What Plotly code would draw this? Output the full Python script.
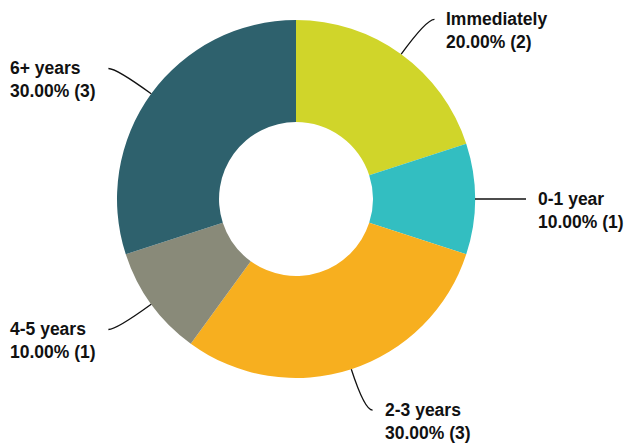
import math
import plotly.graph_objects as go

categories = ["Immediately", "0-1 year", "2-3 years", "4-5 years", "6+ years"]
counts = [2, 1, 3, 1, 3]
colors = ["#D0D52A", "#33BEC1", "#F7AF1F", "#898A79", "#2E616D"]

W, H = 627, 444
CX, CY, R = 296, 199, 179
HOLE = 0.43

fig = go.Figure(go.Pie(
    labels=categories,
    values=counts,
    sort=False,
    direction="clockwise",
    rotation=0,
    hole=HOLE,
    marker=dict(colors=colors, line=dict(width=0)),
    textinfo="none",
    hoverinfo="label+percent+value",
    domain=dict(x=[(CX - R) / W, (CX + R) / W], y=[1 - (CY + R) / H, 1 - (CY - R) / H]),
    showlegend=False,
))

def px(x):
    return x / W

def py(y):
    return 1 - y / H

total = sum(counts)
cum = 0
shapes = []
annotations = []
EXT = 43
ELBOW = 8
GAP = 11
for cat, v in zip(categories, counts):
    mid = (cum + v / 2) / total * 2 * math.pi
    cum += v
    dx, dy = math.sin(mid), -math.cos(mid)
    x0, y0 = CX + R * dx, CY + R * dy
    x1, y1 = CX + (R + EXT) * dx, CY + (R + EXT) * dy
    side = 1 if dx >= -1e-9 else -1
    x2, y2 = x1 + side * ELBOW, y1
    path = "M {} {} Q {} {} {} {}".format(px(x0), py(y0), px(x1), py(y1), px(x2), py(y2))
    shapes.append(dict(type="path", xref="paper", yref="paper", path=path,
                       line=dict(color="#111111", width=1.3)))
    pct = v / total * 100
    text = "<b>{}</b><br><b>{:.2f}% ({})</b>".format(cat, pct, v)
    annotations.append(dict(
        x=px(x2 + side * GAP), y=py(y2 + 11), xref="paper", yref="paper",
        text=text, showarrow=False, align="left",
        xanchor="left" if side > 0 else "right", yanchor="middle",
        font=dict(family="Liberation Sans, Arial, sans-serif", size=17.5, color="#111111"),
        borderpad=0,
    ))

fig.update_layout(
    width=W, height=H,
    margin=dict(l=0, r=0, t=0, b=0),
    paper_bgcolor="white",
    plot_bgcolor="white",
    shapes=shapes,
    annotations=annotations,
)

fig.write_html("out.html", config={"displayModeBar": False},
               post_script="document.body.style.margin='0';document.body.style.overflow='hidden';")
